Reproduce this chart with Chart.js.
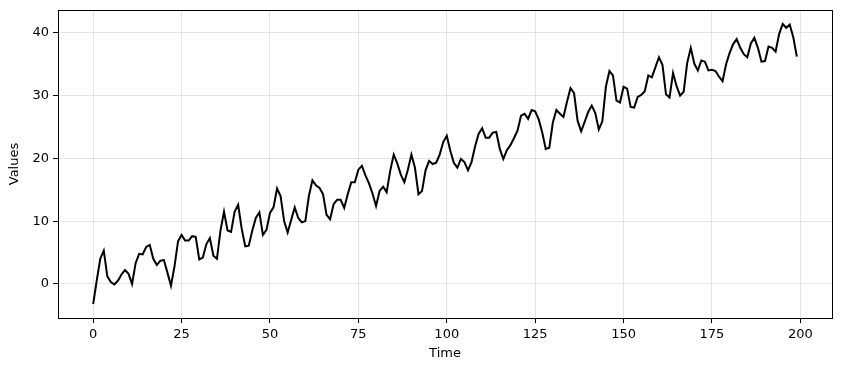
<!DOCTYPE html>
<html>
<head>
<meta charset="utf-8">
<script src="https://cdn.jsdelivr.net/npm/chart.js@4/dist/chart.umd.min.js"></script>
<style>
html,body{margin:0;padding:0;background:#fff;}
#wrap{width:842px;height:371px;}
</style>
</head>
<body>
<div id="wrap"><canvas id="c" width="842" height="371"></canvas></div>
<script>
const values = [
-3.2,0.5,4.0,5.3,1.2,0.3,-0.1,0.5,1.5,2.2,
1.6,0.0,3.3,4.8,4.7,5.9,6.2,4.0,3.0,3.7,
3.8,1.8,-0.3,2.8,6.8,7.8,6.9,6.9,7.6,7.5,
3.9,4.2,6.3,7.3,4.5,4.0,8.5,11.5,8.5,8.3,
11.5,12.6,8.8,6.0,6.1,8.5,10.5,11.4,7.8,8.6,
11.3,12.2,15.2,14.0,10.0,8.2,10.2,12.2,10.5,9.8,
10.0,14.0,16.5,15.7,15.3,14.3,11.0,10.3,12.7,13.4,
13.4,12.1,14.3,16.2,16.2,18.2,18.8,17.3,16.0,14.4,
12.4,14.8,15.5,14.6,18.0,20.6,19.2,17.4,16.2,18.2,
20.6,18.5,14.3,14.8,18.1,19.6,19.1,19.3,20.6,22.6,
23.6,21.2,19.3,18.5,19.9,19.4,18.1,19.4,21.9,23.9,
24.8,23.3,23.3,24.1,24.2,21.5,19.9,21.3,22.1,23.2,
24.4,26.8,27.1,26.3,27.7,27.5,26.2,24.1,21.5,21.7,
25.7,27.7,27.1,26.6,29.0,31.2,30.4,26.0,24.3,25.8,
27.4,28.4,27.2,24.6,25.9,31.4,33.9,33.2,29.2,28.9,
31.4,31.1,28.2,28.1,29.8,30.1,30.7,33.2,32.9,34.5,
36.1,34.9,30.2,29.7,33.6,31.5,30.0,30.6,35.2,37.6,
35.1,34.0,35.6,35.4,34.0,34.1,33.9,33.0,32.3,35.0,
36.8,38.2,39.0,37.6,36.6,36.1,38.3,39.2,37.6,35.4,
35.5,37.8,37.6,37.0,39.8,41.4,40.8,41.3,39.3,36.2
];
const times = values.map((v,i)=>i);
const xTicks = [0,25,50,75,100,125,150,175,200];
const yTicks = [0,10,20,30,40];

const font = {family:'"DejaVu Sans", sans-serif', size:13};

const framePlugin = {
  id:'frame',
  afterDraw(chart){
    const a = chart.chartArea, ctx = chart.ctx;
    ctx.save();
    ctx.strokeStyle = '#000';
    ctx.lineWidth = 1;
    ctx.strokeRect(Math.round(a.left)+0.5, Math.round(a.top)+0.5, Math.round(a.right-a.left), Math.round(a.bottom-a.top));
    ctx.restore();
  }
};

new Chart(document.getElementById('c'), {
  type:'line',
  data:{
    datasets:[{
      data: times.map((t,i)=>({x:t,y:values[i]})),
      borderColor:'#000',
      borderWidth:2,
      pointRadius:0,
      tension:0,
      fill:false
    }]
  },
  options:{
    responsive:false,
    animation:false,
    devicePixelRatio:1,
    layout:{padding:{left:7,top:10,right:10,bottom:10}},
    plugins:{legend:{display:false},tooltip:{enabled:false}},
    scales:{
      x:{
        type:'linear',
        min:-9.95, max:208.95,
        afterBuildTicks(s){ s.ticks = xTicks.map(v=>({value:v})); },
        afterFit(s){ s.height = 43; s.paddingLeft = 0; s.paddingRight = 0; },
        grid:{color:'rgba(0,0,0,0.1)', tickColor:'#000', tickLength:5, lineWidth:1},
        border:{display:false},
        ticks:{color:'#000', font, padding:4, maxRotation:0, autoSkip:false},
        title:{display:true, text:'Time', color:'#000', font, padding:{top:2,bottom:0}}
      },
      y:{
        type:'linear',
        min:-5.43, max:43.63,
        afterBuildTicks(s){ s.ticks = yTicks.map(v=>({value:v})); },
        afterFit(s){ s.width = 51; s.paddingTop = 0; s.paddingBottom = 0; },
        grid:{color:'rgba(0,0,0,0.1)', tickColor:'#000', tickLength:5, lineWidth:1},
        border:{display:false},
        ticks:{color:'#000', font, padding:4, autoSkip:false},
        title:{display:true, text:'Values', color:'#000', font, padding:{top:0,bottom:2}}
      }
    }
  },
  plugins:[framePlugin]
});
</script>
</body>
</html>
